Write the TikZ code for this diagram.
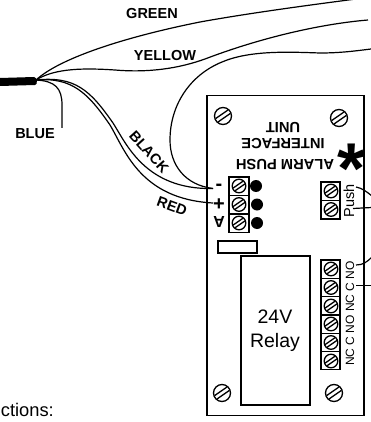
\documentclass[tikz,border=0pt]{standalone}
\usepackage{fontspec}
\setmainfont{Liberation Sans}
\tikzset{
  wire/.style={line width=1.2pt, line join=round},
  board/.style={draw, line width=1.4pt},
  cell/.style={draw, line width=1.2pt},
  colourlabel/.style={font=\fontsize{14.5}{16}\selectfont\bfseries, inner sep=0pt},
  boardlabel/.style={font=\fontsize{14.7}{16}\selectfont\bfseries, inner sep=0pt, rotate=180},
  screw/.pic={
    \draw[line width=1.3pt] (0,0) circle (8.5);
    \draw[line width=1.3pt] (7.4,-2.6) -- (-5,6);
    \draw[line width=1.3pt] (5,-6) -- (-7.4,2.6);
  }
}
\begin{document}
\begin{tikzpicture}[x=1pt, y=-1pt]
    \useasboundingbox (0,0) rectangle (371,422);
    \begin{scope}
        \clip (0,0) rectangle (371,422);

        % Coordinates
        \coordinate (cable) at (36,80);
        \coordinate (minus) at (213,188.5);
        \coordinate (plus) at (213,203);

        % Board
        \draw[board] (207,95.5) rectangle (364,415.5);
        \draw[cell] (218,241) rectangle (257,253);
        \draw[board] (241,256) rectangle (310,405);

        % Terminal blocks
        \foreach \y in {177,195.5,214}
            \draw[cell] (229,\y) rectangle +(20,18.5);
        \foreach \y in {182,200.5}
            \draw[cell] (321,\y) rectangle +(19,18.5);
        \foreach \y in {260,278.3,296.6,314.9,333.2,351.5}
            \draw[cell] (321,\y) rectangle +(19,18.3);

        % Screws
        \foreach \x/\y in {223/116,339/118,222/393,334/393}
            \pic at (\x,\y) {screw};
        \foreach \x/\y in {239/186,239/204.5,239/223,331/191,331/209.5,331/269,331/287.5,331/306,331/324,331/342.5,331/361}
            \pic[scale=0.8] at (\x,\y) {screw};

        % Dots
        \foreach \x/\y in {256/186,257/204.5,257/223}
            \fill (\x,\y) circle (6);

        % Wires
        \fill (0,78) -- (34,77) to[out=0,in=0] (35,85) -- (0,86) -- cycle;
        \draw[wire] (cable) .. controls (60,58) and (125,37) .. (200,22) .. controls (250,13) and (310,5) .. (356,-1);
        \draw[wire] (cable) .. controls (55,68) and (85,68) .. (115,70) .. controls (150,73) and (180,68) .. (205,59) .. controls (260,38) and (320,24) .. (368,20);
        \draw[wire] (minus) .. controls (185,185) and (170,165) .. (170,140) .. controls (170,105) and (190,75) .. (222,62) .. controls (250,50) and (290,52) .. (320,53) .. controls (340,53) and (355,51) .. (371,49);
        \draw[wire] (cable) .. controls (75,76) and (90,90) .. (113,123) .. controls (126,143) and (145,190) .. (minus);
        \draw[wire] (cable) .. controls (72,77) and (88,93) .. (110,125) .. controls (125,150) and (140,199) .. (plus);
        \draw[wire] (cable) .. controls (55,81) and (62,88) .. (62,105) -- (62,128);
        \draw[wire] (356,187) .. controls (362,188) and (367,192) .. (372,196);
        \draw[wire] (353,208.5) -- (372,207.5);
        \draw[wire] (356,265) .. controls (363,265) and (367,262) .. (372,257);
        \draw[wire] (356,285.5) -- (372,285.5);

        % Colour labels
        \node[colourlabel] (green) at (152,14) {GREEN};
        \node[colourlabel] (yellow) at (165,56) {YELLOW};
        \node[colourlabel] (blue) at (35,134) {BLUE};
        \node[colourlabel, rotate=-48] (black) at (149,152) {BLACK};
        \node[colourlabel, rotate=-20] (red) at (172,206) {RED};

        % Board labels
        \node[boardlabel] (alarm) at (285,165) {ALARM PUSH};
        \node[boardlabel] (interface) at (283,144) {INTERFACE};
        \node[boardlabel] (unit) at (283,127) {UNIT};
        \node[font=\fontsize{72}{72}\selectfont\bfseries, inner sep=0pt, anchor=north] (star) at (352,144) {*};
        \node[font=\fontsize{20}{22}\selectfont\bfseries, inner sep=0pt] (minuslabel) at (219,187) {-};
        \node[font=\fontsize{20}{22}\selectfont\bfseries, inner sep=0pt] (pluslabel) at (219,205) {+};
        \node[font=\fontsize{16}{18}\selectfont\bfseries, inner sep=0pt, rotate=180] (alabel) at (219,222) {A};
        \node[font=\fontsize{14.5}{16}\selectfont, inner sep=0pt, rotate=90] (push) at (349,200.5) {Push};
        \node[font=\fontsize{12}{14}\selectfont, inner sep=0pt, rotate=90] (contacts) at (350,313.5) {NC C NO NC C NO};
        \node[font=\fontsize{19.5}{22}\selectfont, inner sep=0pt] (volts) at (275,317) {24V};
        \node[font=\fontsize{19.5}{22}\selectfont, inner sep=0pt] (relay) at (275,342) {Relay};
        \node[font=\fontsize{18.3}{20}\selectfont, inner sep=0pt, anchor=east] (connections) at (54,410) {ctions:};
    \end{scope}
\end{tikzpicture}
\end{document}
